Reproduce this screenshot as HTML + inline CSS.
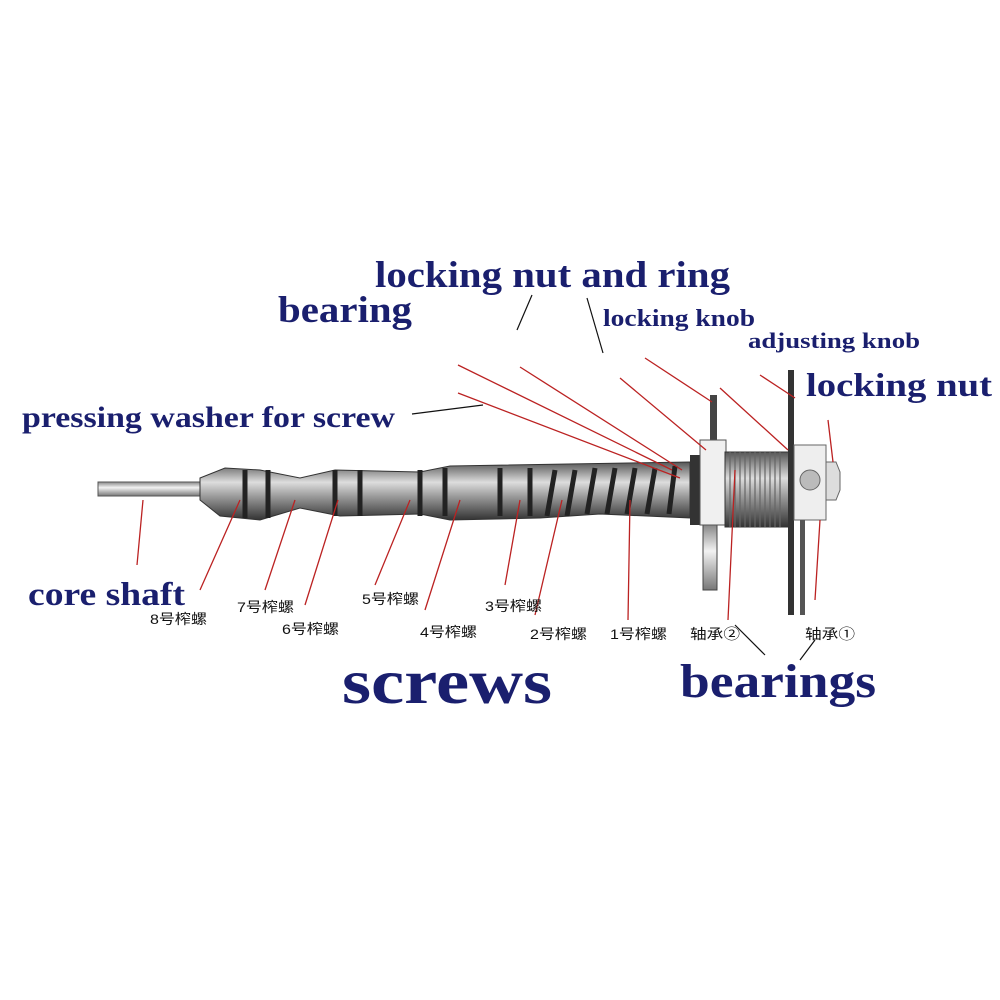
<!DOCTYPE html>
<html><head><meta charset="utf-8"><style>
body{margin:0;background:#fff}
svg{display:block}
.l{font-family:"Liberation Serif",serif;font-weight:bold;fill:#1a1f6e}
.c{font-family:"Liberation Sans","Noto Sans CJK SC",sans-serif;font-size:14px;fill:#111}
</style></head><body>
<svg width="1000" height="1000" viewBox="0 0 1000 1000">
<defs>
<linearGradient id="g" x1="0" y1="0" x2="0" y2="1">
<stop offset="0" stop-color="#555"/><stop offset="0.35" stop-color="#ddd"/><stop offset="0.6" stop-color="#999"/><stop offset="1" stop-color="#333"/>
</linearGradient>
<linearGradient id="g2" x1="0" y1="0" x2="0" y2="1">
<stop offset="0" stop-color="#888"/><stop offset="0.4" stop-color="#f2f2f2"/><stop offset="1" stop-color="#777"/>
</linearGradient>
</defs>
<rect x="98" y="482" width="110" height="14" fill="url(#g2)" stroke="#555" stroke-width="1"/>
<path d="M200 478 L225 468 L260 470 L300 478 L335 470 L420 472 L450 466 L690 462 L690 518 L600 514 L540 518 L450 520 L420 514 L340 516 L300 508 L260 520 L220 516 L200 500 Z" fill="url(#g)" stroke="#333"/>
<g stroke="#222" stroke-width="5" fill="none">
<path d="M245 470v48M268 470v48M335 470v46M360 470v46M420 470v46M445 468v48M500 468v48M530 468v48M555 470l-8 46M575 470l-8 46M595 468l-8 46M615 468l-8 46M635 468l-8 46M655 468l-8 46M675 466l-6 48"/>
</g>
<rect x="710" y="395" width="7" height="60" fill="#444"/>
<rect x="703" y="525" width="14" height="65" fill="url(#g2)" stroke="#444"/>
<rect x="690" y="455" width="12" height="70" fill="#333"/>
<rect x="700" y="440" width="26" height="85" fill="#f0f0f0" stroke="#555"/>
<rect x="725" y="452" width="65" height="75" fill="url(#g)" stroke="#333"/>
<g stroke="#666" stroke-width="1.2"><path d="M730 452v75M735 452v75M740 452v75M745 452v75M750 452v75M755 452v75M760 452v75M765 452v75M770 452v75M775 452v75M780 452v75"/></g>
<rect x="788" y="370" width="6" height="245" fill="#333"/>
<rect x="794" y="445" width="32" height="75" fill="#eee" stroke="#666"/>
<circle cx="810" cy="480" r="10" fill="#bbb" stroke="#666"/>
<path d="M826 462h10l4 10v18l-4 10h-10z" fill="#ddd" stroke="#666"/>
<rect x="800" y="520" width="5" height="95" fill="#555"/>
<g stroke="#b22" stroke-width="1.3" fill="none">
<path d="M458 365L672 470M520 367L682 470M620 378L706 450M645 358L712 402M458 393L680 478M720 388L788 450M760 375L795 398M828 420L833 462"/>
<path d="M143 500L137 565M240 500L200 590M295 500L265 590M338 500L305 605M410 500L375 585M460 500L425 610M520 500L505 585M562 500L535 615M630 500L628 620M735 470L728 620M820 520L815 600"/>
</g>
<g stroke="#111" stroke-width="1.2" fill="none">
<path d="M532 295L517 330M587 298L603 353M412 414L483 405M735 625L765 655M815 640L800 660"/>
</g>
<text class="l" x="375" y="287" font-size="37" textLength="355" lengthAdjust="spacingAndGlyphs">locking nut and ring</text>
<text class="l" x="278" y="322" font-size="37" textLength="134" lengthAdjust="spacingAndGlyphs">bearing</text>
<text class="l" x="603" y="326" font-size="24" textLength="152" lengthAdjust="spacingAndGlyphs">locking knob</text>
<text class="l" x="748" y="348" font-size="22" textLength="172" lengthAdjust="spacingAndGlyphs">adjusting knob</text>
<text class="l" x="806" y="396" font-size="33" textLength="186" lengthAdjust="spacingAndGlyphs">locking nut</text>
<text class="l" x="22" y="427" font-size="30" textLength="373" lengthAdjust="spacingAndGlyphs">pressing washer for screw</text>
<text class="l" x="28" y="605" font-size="33" textLength="157" lengthAdjust="spacingAndGlyphs">core shaft</text>
<text class="l" x="342" y="703" font-size="64" textLength="210" lengthAdjust="spacingAndGlyphs">screws</text>
<text class="l" x="680" y="697" font-size="48" textLength="196" lengthAdjust="spacingAndGlyphs">bearings</text>
<text class="c" x="150" y="624" textLength="57" lengthAdjust="spacingAndGlyphs">8号榨螺</text>
<text class="c" x="237" y="612" textLength="57" lengthAdjust="spacingAndGlyphs">7号榨螺</text>
<text class="c" x="282" y="634" textLength="57" lengthAdjust="spacingAndGlyphs">6号榨螺</text>
<text class="c" x="362" y="604" textLength="57" lengthAdjust="spacingAndGlyphs">5号榨螺</text>
<text class="c" x="420" y="637" textLength="57" lengthAdjust="spacingAndGlyphs">4号榨螺</text>
<text class="c" x="485" y="611" textLength="57" lengthAdjust="spacingAndGlyphs">3号榨螺</text>
<text class="c" x="530" y="639" textLength="57" lengthAdjust="spacingAndGlyphs">2号榨螺</text>
<text class="c" x="610" y="639" textLength="57" lengthAdjust="spacingAndGlyphs">1号榨螺</text>
<text class="c" x="690" y="639" textLength="50" lengthAdjust="spacingAndGlyphs">轴承②</text>
<text class="c" x="805" y="639" textLength="50" lengthAdjust="spacingAndGlyphs">轴承①</text>
</svg>
</body></html>
